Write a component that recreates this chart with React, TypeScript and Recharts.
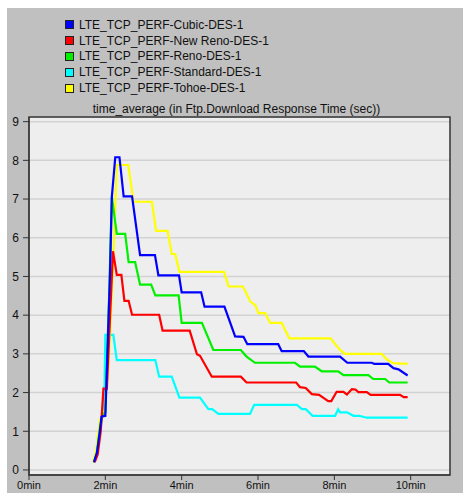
import { LineChart, Line, XAxis, YAxis, CartesianGrid, ReferenceArea } from 'recharts'

// [time in minutes, response time in sec]
const cubic: [number, number][] = [
  [1.7, 0.2], [1.78, 0.45], [1.85, 0.95], [1.9, 1.38], [2.0, 1.4], [2.12, 5.0], [2.17, 7.05], [2.26, 8.08],
  [2.37, 8.08], [2.48, 7.07], [2.7, 7.07], [2.91, 5.55], [3.3, 5.55], [3.39, 5.03], [3.93, 5.03], [4.0, 4.59],
  [4.51, 4.59], [4.6, 4.22], [5.12, 4.22], [5.4, 3.45], [5.62, 3.44], [5.72, 3.25], [6.53, 3.25], [6.62, 3.07],
  [7.2, 3.07], [7.32, 2.93], [8.15, 2.93], [8.34, 2.77], [8.98, 2.77], [9.05, 2.74], [9.41, 2.74], [9.55, 2.63],
  [9.68, 2.6], [9.92, 2.44],
]
const newReno: [number, number][] = [
  [1.72, 0.2], [1.8, 0.4], [1.88, 1.0], [1.95, 2.1], [2.04, 2.1], [2.2, 5.65], [2.3, 5.04], [2.42, 5.04],
  [2.5, 4.37], [2.61, 4.37], [2.7, 4.01], [3.41, 4.01], [3.5, 3.6], [4.21, 3.6], [4.4, 2.99], [4.48, 2.95],
  [4.79, 2.41], [5.55, 2.41], [5.7, 2.26], [7.0, 2.26], [7.1, 2.14], [7.25, 2.12], [7.41, 1.96], [7.6, 1.94],
  [7.84, 1.78], [7.92, 1.78], [8.06, 2.02], [8.24, 2.02], [8.33, 1.95], [8.46, 2.09], [8.55, 2.08], [8.63, 2.01],
  [8.85, 2.01], [8.95, 1.94], [9.72, 1.94], [9.82, 1.88], [9.92, 1.88],
]
const reno: [number, number][] = [
  [1.7, 0.2], [1.78, 0.45], [1.86, 1.1], [1.92, 1.4], [2.0, 1.5], [2.1, 4.5], [2.17, 7.06], [2.3, 6.1],
  [2.52, 6.1], [2.61, 5.37], [2.78, 5.37], [2.91, 4.79], [3.2, 4.79], [3.31, 4.51], [3.92, 4.51], [4.0, 3.8],
  [4.53, 3.8], [4.83, 3.1], [5.55, 3.1], [5.7, 2.93], [5.92, 2.77], [6.97, 2.77], [7.1, 2.67], [7.49, 2.67],
  [7.67, 2.55], [8.1, 2.55], [8.24, 2.45], [8.89, 2.45], [9.02, 2.35], [9.33, 2.35], [9.44, 2.26], [9.92, 2.26],
]
const standard: [number, number][] = [
  [1.7, 0.2], [1.78, 0.45], [1.86, 1.0], [1.92, 1.4], [1.98, 2.2], [2.0, 3.49], [2.21, 3.49], [2.3, 2.84],
  [3.31, 2.84], [3.41, 2.41], [3.74, 2.41], [3.94, 1.87], [4.48, 1.87], [4.7, 1.57], [4.8, 1.57], [4.96, 1.45],
  [5.79, 1.45], [5.9, 1.68], [7.02, 1.68], [7.15, 1.57], [7.25, 1.57], [7.43, 1.4], [8.02, 1.4], [8.1, 1.57],
  [8.15, 1.49], [8.33, 1.49], [8.5, 1.4], [8.65, 1.4], [8.85, 1.35], [9.92, 1.35],
]
const tohoe: [number, number][] = [
  [1.68, 0.2], [1.76, 0.5], [1.86, 1.3], [1.98, 1.5], [2.1, 3.0], [2.22, 5.8], [2.3, 7.88], [2.6, 7.88],
  [2.74, 6.93], [3.22, 6.93], [3.33, 6.18], [3.63, 6.18], [3.74, 5.58], [3.83, 5.58], [3.94, 5.12], [5.11, 5.12],
  [5.23, 4.74], [5.6, 4.74], [5.7, 4.56], [5.8, 4.35], [5.93, 4.26], [6.01, 4.05], [6.19, 4.05], [6.32, 3.8],
  [6.62, 3.8], [6.82, 3.4], [7.9, 3.4], [8.15, 3.1], [8.28, 3.0], [9.24, 3.0], [9.37, 2.86], [9.54, 2.76],
  [9.92, 2.74],
]

const seriesNames = [
  'LTE_TCP_PERF-Cubic-DES-1',
  'LTE_TCP_PERF-New Reno-DES-1',
  'LTE_TCP_PERF-Reno-DES-1',
  'LTE_TCP_PERF-Standard-DES-1',
  'LTE_TCP_PERF-Tohoe-DES-1',
]
const seriesColors = ['#0000ff', '#ff0000', '#00f000', '#00ffff', '#ffff00']
const seriesData = [cubic, newReno, reno, standard, tohoe]

const xTicks = [0, 2, 4, 6, 8, 10]
const yTicks = [0, 1, 2, 3, 4, 5, 6, 7, 8, 9]
const X_MAX = 11.03
const Y_MIN = -0.13
const Y_MAX = 9.12

const font = '"Liberation Sans", Arial, sans-serif'
const toRows = (pts: [number, number][]) => pts.map(([t, v]) => ({ t, v }))

// draw order: blue last so it sits on top
const drawOrder = [3, 4, 2, 1, 0]

export default function App() {
  return (
    <div style={{ position: 'absolute', left: 0, top: 0, width: 463, height: 493, background: '#fff', fontFamily: font }}>
      <div style={{ position: 'absolute', left: 7, top: 8, right: 0, bottom: 0, background: '#c0c0c0' }} />
      <div style={{ position: 'absolute', left: 65, top: 17 }}>
        {seriesNames.map((name, i) => (
          <div key={i} style={{ display: 'flex', alignItems: 'center', height: 15.8, fontSize: 12, color: '#111' }}>
            <div style={{ width: 7, height: 7, background: seriesColors[i], border: '1px solid #222', marginRight: 5 }} />
            <span>{name}</span>
          </div>
        ))}
      </div>
      <div style={{ position: 'absolute', left: 29, width: 415, top: 102, textAlign: 'center', fontSize: 12, color: '#111' }}>
        time_average (in Ftp.Download Response Time (sec))
      </div>
      <div style={{ position: 'absolute', left: 0, top: 0 }}>
        <LineChart width={463} height={493} margin={{ top: 117, right: 13, bottom: 0, left: 0 }}>
          <CartesianGrid vertical={false} stroke="#d2d2d2" strokeWidth={1.5} fill="#eeeeee" fillOpacity={1} />
          <XAxis
            dataKey="t"
            type="number"
            domain={[0, X_MAX]}
            ticks={xTicks}
            allowDataOverflow
            height={18}
            tickFormatter={(v: number) => `${v}min`}
            tick={{ fontSize: 11, fill: '#111', fontFamily: font }}
            stroke="#333"
            tickSize={5}
            tickMargin={1}
          />
          <YAxis
            type="number"
            domain={[Y_MIN, Y_MAX]}
            ticks={yTicks}
            allowDataOverflow
            width={29}
            tick={{ fontSize: 12, fill: '#111', fontFamily: font }}
            stroke="#333"
            tickSize={6}
            tickMargin={4}
          />
          {drawOrder.map((i) => (
            <Line
              key={i}
              data={toRows(seriesData[i])}
              dataKey="v"
              type="linear"
              stroke={seriesColors[i]}
              strokeWidth={2.2}
              dot={false}
              isAnimationActive={false}
            />
          ))}
          <ReferenceArea x1={0} x2={X_MAX} y1={Y_MIN} y2={Y_MAX} fill="none" stroke="#333" strokeWidth={1.5} ifOverflow="visible" />
        </LineChart>
      </div>
    </div>
  )
}
